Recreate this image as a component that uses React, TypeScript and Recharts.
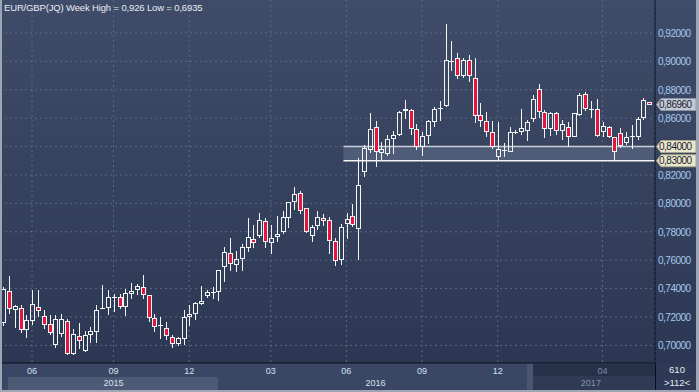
import React from "react";
import { ComposedChart, Bar, XAxis, YAxis, CartesianGrid, ReferenceArea } from "recharts";

// weekly EUR/GBP candles
const OPEN = [
  0.716, 0.7381, 0.7252, 0.7264, 0.7106, 0.7172, 0.7273, 0.7207, 0.7151, 0.7, 0.7083, 0.7172, 0.6942, 0.7066,
  0.696, 0.7076, 0.7097, 0.7259, 0.7261, 0.734, 0.7341, 0.727, 0.7365, 0.7388, 0.7414, 0.7353, 0.7195, 0.7138,
  0.7125, 0.7057, 0.7008, 0.7043, 0.7202, 0.7224, 0.7289, 0.7345, 0.7369, 0.7375, 0.7551, 0.7649, 0.7563, 0.7605,
  0.7684, 0.7747, 0.777, 0.7876, 0.7724, 0.7766, 0.7796, 0.7895, 0.8007, 0.807, 0.7965, 0.777, 0.7843, 0.7895,
  0.7882, 0.7734, 0.7598, 0.7852, 0.7908, 0.782, 0.8224, 0.8377, 0.8541, 0.8358, 0.8347, 0.845, 0.8483, 0.8648,
  0.8657, 0.8527, 0.8394, 0.8476, 0.857, 0.8664, 0.8688, 0.9, 0.9021, 0.8899, 0.9007, 0.8881, 0.8621, 0.8577,
  0.85, 0.833, 0.8368, 0.836, 0.8503, 0.8505, 0.8512, 0.8591, 0.8807, 0.864, 0.8521, 0.8633, 0.8509, 0.854,
  0.847, 0.8621, 0.8773, 0.8668, 0.8661, 0.85, 0.854, 0.8465, 0.8493, 0.8423, 0.847, 0.847, 0.8603, 0.8714,
];
const HIGH = [
  0.741, 0.7487, 0.7285, 0.7282, 0.7212, 0.7388, 0.7388, 0.7252, 0.7212, 0.7217, 0.7224, 0.7188, 0.7118, 0.716,
  0.7102, 0.713, 0.7282, 0.7423, 0.7393, 0.736, 0.736, 0.74, 0.7442, 0.7435, 0.7494, 0.7353, 0.7224, 0.7201,
  0.7165, 0.7073, 0.7057, 0.725, 0.7287, 0.7305, 0.7419, 0.7392, 0.741, 0.7531, 0.7696, 0.7754, 0.7665, 0.7715,
  0.79, 0.7848, 0.7934, 0.79, 0.7848, 0.7911, 0.7946, 0.8012, 0.8112, 0.8087, 0.7965, 0.7848, 0.7946, 0.7923,
  0.7906, 0.7753, 0.7855, 0.793, 0.7995, 0.832, 0.841, 0.8633, 0.8577, 0.8429, 0.8481, 0.8511, 0.8652, 0.873,
  0.8664, 0.8556, 0.85, 0.8587, 0.8676, 0.8723, 0.9263, 0.9141, 0.9059, 0.9021, 0.9047, 0.9022, 0.871, 0.8641,
  0.8577, 0.8574, 0.8423, 0.854, 0.8516, 0.8668, 0.8586, 0.8761, 0.8842, 0.8656, 0.864, 0.864, 0.8586, 0.8575,
  0.8633, 0.878, 0.8784, 0.8719, 0.8733, 0.8575, 0.8547, 0.8465, 0.8533, 0.8505, 0.8551, 0.861, 0.8742, 0.8716,
];
const LOW = [
  0.714, 0.7224, 0.7122, 0.7087, 0.7054, 0.7146, 0.72, 0.7118, 0.7071, 0.6982, 0.706, 0.6935, 0.6935, 0.6977,
  0.6955, 0.7017, 0.7017, 0.7255, 0.7216, 0.7235, 0.7254, 0.7207, 0.7329, 0.7358, 0.733, 0.7165, 0.7094, 0.7045,
  0.7036, 0.6984, 0.6996, 0.7003, 0.7139, 0.718, 0.7283, 0.7336, 0.7328, 0.731, 0.7443, 0.7525, 0.752, 0.7525,
  0.7661, 0.7689, 0.7754, 0.7689, 0.7644, 0.7731, 0.7782, 0.7829, 0.7953, 0.7923, 0.7789, 0.7731, 0.7813, 0.7843,
  0.7647, 0.7558, 0.7568, 0.7746, 0.7831, 0.76, 0.8186, 0.8358, 0.8253, 0.8307, 0.8335, 0.8347, 0.8476, 0.8594,
  0.848, 0.8377, 0.8335, 0.8417, 0.8535, 0.8582, 0.8676, 0.8934, 0.8876, 0.888, 0.8852, 0.8564, 0.8535, 0.8464,
  0.8382, 0.83, 0.833, 0.836, 0.8486, 0.8481, 0.8442, 0.8574, 0.8603, 0.8463, 0.8474, 0.8481, 0.8447, 0.84,
  0.847, 0.8614, 0.8649, 0.8598, 0.847, 0.847, 0.8458, 0.8307, 0.8393, 0.8412, 0.8384, 0.8447, 0.8587, 0.8694,
];
const CLOSE = [
  0.7395, 0.7254, 0.7278, 0.7111, 0.7181, 0.7289, 0.724, 0.7146, 0.709, 0.7188, 0.7188, 0.6942, 0.7083, 0.7031,
  0.7076, 0.7104, 0.7252, 0.7264, 0.7343, 0.7343, 0.727, 0.7372, 0.7381, 0.7416, 0.7353, 0.7195, 0.713, 0.7142,
  0.7064, 0.701, 0.705, 0.7203, 0.7221, 0.73, 0.7312, 0.7378, 0.7374, 0.753, 0.7656, 0.7572, 0.7607, 0.7691,
  0.7761, 0.7724, 0.7883, 0.7731, 0.7754, 0.7782, 0.7902, 0.8007, 0.8063, 0.7946, 0.7796, 0.7831, 0.7902, 0.7876,
  0.7736, 0.7595, 0.7833, 0.7889, 0.7849, 0.8132, 0.8387, 0.8527, 0.8365, 0.8382, 0.8453, 0.8483, 0.8641, 0.8664,
  0.8527, 0.8398, 0.8471, 0.8577, 0.8664, 0.8669, 0.9007, 0.9002, 0.8899, 0.9012, 0.8899, 0.8618, 0.8577, 0.85,
  0.8398, 0.8384, 0.8375, 0.85, 0.8505, 0.8528, 0.857, 0.8733, 0.8644, 0.8521, 0.8633, 0.8509, 0.8556, 0.847,
  0.8633, 0.8766, 0.8661, 0.8654, 0.8477, 0.8547, 0.847, 0.8365, 0.8407, 0.8465, 0.8475, 0.8593, 0.8726, 0.8696,
];

// week labels (one per candle)
const START = Date.UTC(2015, 4, 1);
const WEEKS = OPEN.map((_, i) => new Date(START + i * 7 * 86400000).toISOString().slice(0, 10));

const MONTH_TICKS = [
  { index: 5, label: "06" },
  { index: 19, label: "09" },
  { index: 32, label: "12" },
  { index: 46, label: "03" },
  { index: 59, label: "06" },
  { index: 72, label: "09" },
  { index: 85, label: "12" },
  { index: 103, label: "04" },
];
const YEAR_TICKS = [
  { index: 19, label: "2015", dim: false },
  { index: 64, label: "2016", dim: false },
  { index: 101, label: "2017", dim: true },
];

const Y_TICKS = [0.7, 0.72, 0.74, 0.76, 0.78, 0.8, 0.82, 0.84, 0.86, 0.88, 0.9, 0.92];
const LAST_PRICE = 0.8696;
const LEVELS = [0.84, 0.83];
const BAND_START = 59;

const W = 699;
const H = 392;
const PLOT_RIGHT = 655;
const FONT = '"Liberation Sans", Arial, sans-serif';
const RED = "#e3173e";

const DATA = OPEN.map((open, i) => ({
  week: WEEKS[i],
  open,
  high: HIGH[i],
  low: LOW[i],
  close: CLOSE[i],
}));

const Candle = (props: any) => {
  const { x, y, width, height, payload } = props;
  const { open, close, high, low } = payload;
  const top = Math.min(y, y + height);
  const h = Math.abs(height);
  const toY = (v: number) => top + ((high - v) / (high - low || 1)) * h;
  const cx = Math.round(x + width / 2);
  const up = close >= open;
  const bTop = Math.round(toY(Math.max(open, close)));
  const bBot = Math.max(Math.round(toY(Math.min(open, close))), bTop + 1);
  const yHigh = Math.round(toY(high));
  const yLow = Math.round(toY(low));
  return (
    <g>
      {yHigh < bTop && <line x1={cx + 0.5} x2={cx + 0.5} y1={yHigh} y2={bTop} stroke="#f4f4f4" />}
      {yLow > bBot && <line x1={cx + 0.5} x2={cx + 0.5} y1={bBot} y2={yLow} stroke="#f4f4f4" />}
      <rect
        x={cx - 1.5}
        y={bTop + 0.5}
        width={4}
        height={bBot - bTop - 1 > 0 ? bBot - bTop - 1 : 0.01}
        fill={up ? "none" : RED}
        stroke="#f4f4f4"
      />
    </g>
  );
};

const MonthTick = ({ x, y, payload }: any) => {
  const t = MONTH_TICKS.find((m) => WEEKS[m.index] === payload.value);
  if (!t) return null;
  const dim = t.index > 100;
  return (
    <text x={x} y={y + 11} textAnchor="middle" fontSize={9} fontFamily={FONT} fill={dim ? "#7d8aa3" : "#cfe0f4"}>
      {t.label}
    </text>
  );
};

const YearTick = ({ x, y, payload }: any) => {
  const t = YEAR_TICKS.find((m) => WEEKS[m.index] === payload.value);
  if (!t) return null;
  return (
    <text x={x} y={y + 10} textAnchor="middle" fontSize={9} fontFamily={FONT} fill={t.dim ? "#8592aa" : "#d8e2ee"}>
      {t.label}
    </text>
  );
};

const fmt = (v: number) => v.toFixed(5).replace(".", ",");

const PriceTick = ({ x, y, payload }: any) => {
  const v = payload.value;
  const isLast = Math.abs(v - LAST_PRICE) < 1e-6;
  const isLevel = LEVELS.some((l) => Math.abs(v - l) < 1e-6);
  const label = fmt(v);
  if (isLast || isLevel) {
    const fill = isLast ? "#c3cad6" : "#e8e6cb";
    return (
      <g>
        <polygon
          points={`${x + 1.5},${y} ${x + 6},${y - 6} ${x + 41},${y - 6} ${x + 41},${y + 6} ${x + 6},${y + 6}`}
          fill={fill}
          stroke={isLast ? "#8e97a8" : "#a9a88e"}
        />
        <text x={x + 4} y={y + 3.5} fontSize={10} letterSpacing={-0.5} fontFamily={FONT} fill="#1c2230">
          {label}
        </text>
      </g>
    );
  }
  return (
    <text x={x + 3} y={y + 3.8} fontSize={10} letterSpacing={-0.5} fontFamily={FONT} fill="#a7c8ee">
      {label}
    </text>
  );
};

const Band = (props: any) => {
  const { x, y, height } = props;
  const w = PLOT_RIGHT - x;
  return (
    <g>
      <rect x={x} y={y} width={w} height={height} fill="#4f5c78" />
      <line x1={x} x2={x + w} y1={y} y2={y} stroke="#c9ced8" strokeWidth={1.5} />
      <line x1={x} x2={x + w} y1={y + height} y2={y + height} stroke="#f2f2f2" strokeWidth={1.5} />
    </g>
  );
};

const abs = (left: number, top: number, width: number, height: number, background: string): React.CSSProperties => ({
  position: "absolute",
  left,
  top,
  width,
  height,
  background,
});

export default function App() {
  return (
    <div style={{ position: "absolute", left: 0, top: 0, width: W, height: H, overflow: "hidden", fontFamily: FONT }}>
      <div style={abs(0, 0, W, 363, "linear-gradient(#3f4c69, #2c3853)")} />
      <div style={abs(0, 363, PLOT_RIGHT, 29, "#3a4764")} />
      <div style={abs(8, 377, 210, 13, "#4d5a76")} />
      <div style={abs(527, 364, 6, 26, "#4a5571")} />
      <div style={abs(533, 364, 122, 12, "#26324a")} />
      <div style={abs(533, 376, 122, 14, "#2f3a54")} />
      <div style={abs(PLOT_RIGHT, 363, 44, 29, "#2e3a55")} />

      <div style={{ position: "absolute", left: 0, top: 0 }}>
        <ComposedChart width={W} height={H} data={DATA} margin={{ top: 0, right: 0, bottom: 0, left: 0 }}>
          <CartesianGrid
            stroke="#5a6884"
            strokeDasharray="2 3"
            horizontalValues={Y_TICKS}
          />
          <XAxis
            dataKey="week"
            ticks={MONTH_TICKS.map((t) => WEEKS[t.index])}
            interval={0}
            tick={<MonthTick />}
            tickLine={false}
            tickSize={0}
            tickMargin={0}
            axisLine={{ stroke: "#0b101b" }}
            height={13}
            padding={{ left: 0, right: 3 }}
          />
          <XAxis
            xAxisId="year"
            dataKey="week"
            ticks={YEAR_TICKS.map((t) => WEEKS[t.index])}
            interval={0}
            tick={<YearTick />}
            tickLine={false}
            tickSize={0}
            tickMargin={0}
            axisLine={false}
            height={16}
            padding={{ left: 0, right: 3 }}
          />
          <YAxis
            orientation="right"
            domain={[0.6876, 0.9432]}
            allowDataOverflow
            ticks={[...Y_TICKS, LAST_PRICE, 0.83]}
            interval={0}
            tick={<PriceTick />}
            tickLine={false}
            tickSize={0}
            tickMargin={0}
            axisLine={{ stroke: "#0b101b" }}
            width={44}
          />
          <ReferenceArea
            x1={WEEKS[BAND_START]}
            y1={LEVELS[1]}
            y2={LEVELS[0]}
            ifOverflow="visible"
            shape={<Band />}
          />
          <Bar dataKey={(d: any) => [d.low, d.high]} shape={<Candle />} isAnimationActive={false} />
        </ComposedChart>
      </div>

      <div
        style={{
          position: "absolute",
          left: 4,
          top: 2,
          fontSize: 9.5,
          letterSpacing: -0.15,
          color: "#e8ecf2",
          whiteSpace: "nowrap",
        }}
      >
        EUR/GBP(JQ) Week High = 0,926 Low = 0,6935
      </div>
      <div style={{ position: "absolute", left: PLOT_RIGHT, top: 364, width: 44, textAlign: "center", fontSize: 9.5, color: "#e4e9f0" }}>
        610
      </div>
      <div style={{ position: "absolute", left: PLOT_RIGHT, top: 377, width: 44, textAlign: "center", fontSize: 9.5, color: "#e4e9f0" }}>
        &gt;112&lt;
      </div>

      <div style={abs(PLOT_RIGHT, 363, 1, 29, "#0b101b")} />
      <div style={abs(0, 0, 2, H, "#9ea6b5")} />
      <div style={abs(W - 3, 0, 3, H, "#9ea6b5")} />
      <div style={abs(0, H - 2, W, 2, "#9ea6b5")} />
    </div>
  );
}
